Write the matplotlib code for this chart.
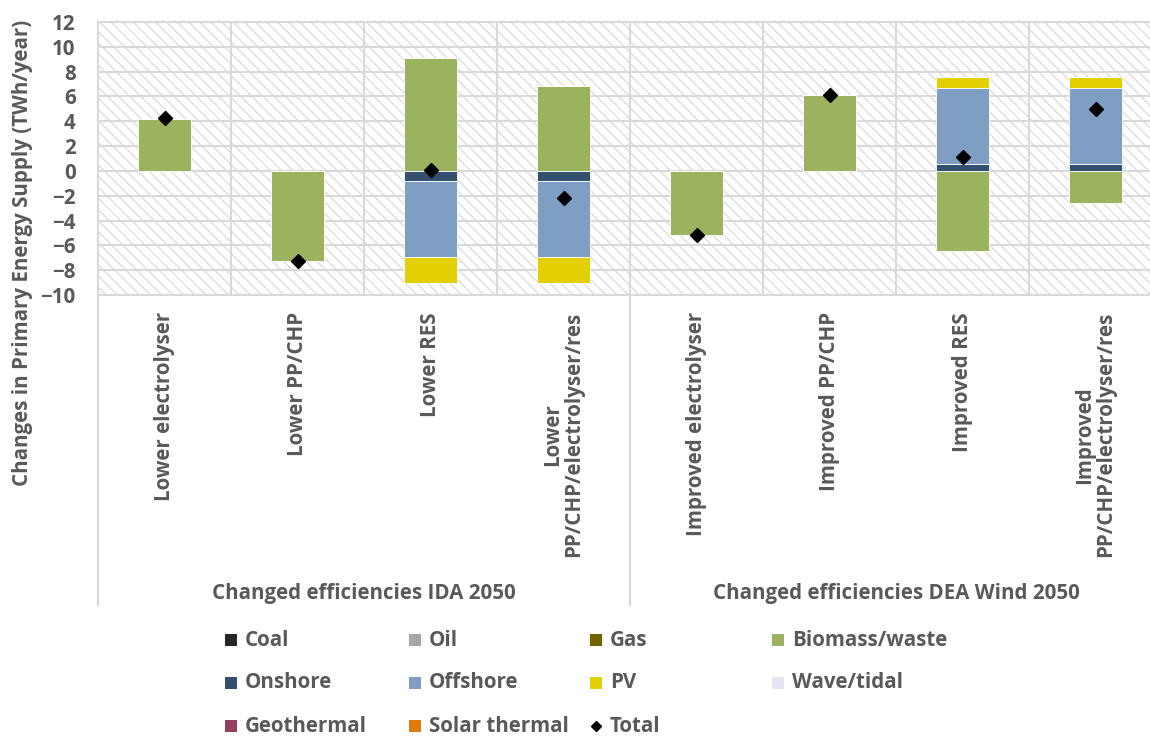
import numpy as np
import matplotlib
matplotlib.use("Agg")
import matplotlib.pyplot as plt
from matplotlib import font_manager
from matplotlib.patches import Rectangle
from matplotlib.lines import Line2D
import matplotlib.transforms as mtransforms

# pick the first family that ships a real bold face
family = "DejaVu Sans"
for fam in ["Open Sans", "Noto Sans", "Roboto", "Lato"]:
    path = font_manager.findfont(font_manager.FontProperties(family=fam, weight="bold"),
                                 fallback_to_default=False)
    if fam.replace(" ", "").lower() in path.replace(" ", "").lower() and "bold" in path.lower():
        family = fam
        break

plt.rcParams["font.family"] = [family, "DejaVu Sans"]
plt.rcParams["font.weight"] = "bold"
plt.rcParams["hatch.linewidth"] = 1.0
plt.rcParams["hatch.color"] = "#dedede"

# primary energy supply changes (TWh/year) per scenario
categories = ["Lower electrolyser", "Lower PP/CHP", "Lower RES",
              "Lower\nPP/CHP/electrolyser/res",
              "Improved electrolyser", "Improved PP/CHP", "Improved RES",
              "Improved\nPP/CHP/electrolyser/res"]
groups = ["Changed efficiencies IDA 2050", "Changed efficiencies DEA Wind 2050"]

coal = [0, 0, 0, 0, 0, 0, 0, 0]
oil = [0, 0, 0, 0, 0, 0, 0, 0]
gas = [0, 0, 0, 0, 0, 0, 0, 0]
biomass = [4.2, -7.3, 9.1, 6.85, -5.2, 6.1, -6.45, -2.6]
onshore = [0, 0, -0.8, -0.8, 0, 0, 0.52, 0.52]
offshore = [0, 0, -6.16, -6.16, 0, 0, 6.2, 6.2]
pv = [0, 0, -2.1, -2.1, 0, 0, 0.83, 0.83]
wave = [0, 0, 0, 0, 0, 0, 0, 0]
geothermal = [0, 0, 0, 0, 0, 0, 0, 0]
solar_thermal = [0, 0, 0, 0, 0, 0, 0, 0]
total = [4.25, -7.3, 0.05, -2.2, -5.2, 6.1, 1.1, 4.95]

series = [("Coal", coal, "#262626"), ("Oil", oil, "#a6a6a6"),
          ("Gas", gas, "#6f6400"), ("Biomass/waste", biomass, "#9bb35f"),
          ("Onshore", onshore, "#34506f"), ("Offshore", offshore, "#7f9ec3"),
          ("PV", pv, "#e2d004"), ("Wave/tidal", wave, "#e6e4ef"),
          ("Geothermal", geothermal, "#953f5f"),
          ("Solar thermal", solar_thermal, "#e07c0a")]

grey = "#595959"
linec = "#d9d9d9"
fs = 14.8

fig = plt.figure(figsize=(11.5, 7.37), dpi=100)
ax = fig.add_axes([98 / 1150, 1 - 295 / 737, (1162 - 98) / 1150, (295 - 22) / 737])

x = np.arange(len(categories))
ax.set_xlim(-0.5, len(categories) - 0.5)
ax.set_ylim(-10, 12)

# hatched background
ax.add_patch(Rectangle((0, 0), 1, 1, transform=ax.transAxes, facecolor="white",
                       edgecolor="#dedede", hatch="\\\\\\", lw=0, zorder=0))

ax.set_yticks(np.arange(-10, 13, 2))
ax.set_xticks(np.arange(0.5, len(categories) - 0.5, 1), minor=True)
ax.set_xticks([])
ax.grid(True, which="major", axis="y", color=linec, lw=1.5, zorder=1)
ax.grid(True, which="minor", axis="x", color=linec, lw=1.5, zorder=1)
ax.tick_params(axis="both", which="both", length=0)
ax.tick_params(axis="y", pad=16, labelsize=fs, labelcolor=grey)
for s in ax.spines.values():
    s.set_color(linec)
    s.set_linewidth(1.5)

pos_base = np.zeros(len(categories))
neg_base = np.zeros(len(categories))
for name, vals, col in series:
    v = np.array(vals, dtype=float)
    base = np.where(v >= 0, pos_base, neg_base)
    ax.bar(x, v, 0.4, bottom=base, color=col, edgecolor="white", lw=0.6,
           zorder=3, label=name)
    pos_base += np.where(v > 0, v, 0)
    neg_base += np.where(v < 0, v, 0)

ax.plot(x, total, ls="none", marker="D", ms=7.5, color="black", zorder=4)

fig.text(23 / 1150, 1 - 253 / 737, "Changes in Primary Energy Supply (TWh/year)",
         rotation=90, ha="center", va="center", fontsize=fs, color=grey)

# category and group labels below the axes
trans = mtransforms.blended_transform_factory(ax.transData, fig.transFigure)
for xi, lab in zip(x, categories):
    ax.text(xi, 1 - 312 / 737, lab, transform=trans, rotation=90, ha="center",
            va="top", multialignment="center", fontsize=fs, color=grey,
            linespacing=1.0)
for gi, g in enumerate(groups):
    ax.text(gi * 4 + 1.5, 1 - 593 / 737, g, transform=trans, ha="center",
            va="center", fontsize=fs, color=grey)
for xb in [-0.5, 3.5, 7.5]:
    ax.add_line(Line2D([xb, xb], [1 - 605 / 737, 1 - 295 / 737], transform=trans,
                       color=linec, lw=1.5, clip_on=False))

# legend
leg_cols = [225, 409, 590, 772]
leg_rows = [640, 683, 726]
items = [(n, c) for n, _, c in series] + [("Total", None)]
for i, (name, col) in enumerate(items):
    r, c = divmod(i, 4)
    px, py = leg_cols[c], leg_rows[r]
    if col is None:
        fig.add_artist(Line2D([(px + 6) / 1150], [1 - py / 737], marker="D",
                              ms=5, color="black", ls="none"))
    else:
        fig.add_artist(Rectangle((px / 1150, 1 - (py + 6) / 737), 12 / 1150,
                                 12 / 737, facecolor=col, edgecolor="none"))
    fig.text((px + 20) / 1150, 1 - py / 737, name, fontsize=fs, color=grey,
             va="center", ha="left")

fig.savefig("out.png", dpi=100)
